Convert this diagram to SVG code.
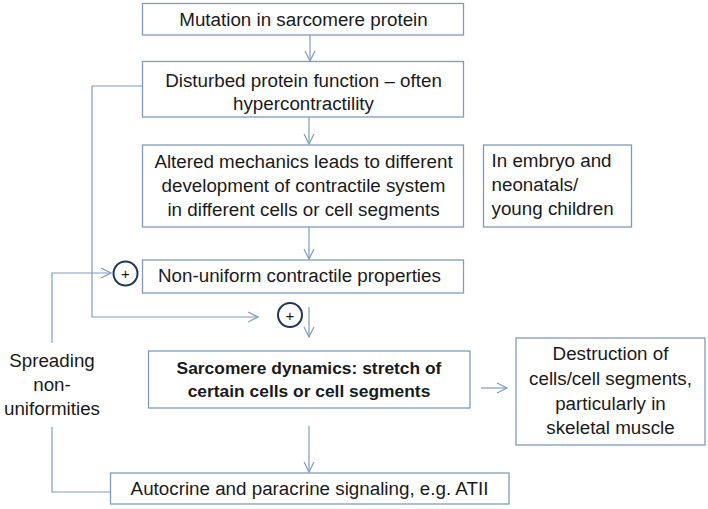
<svg xmlns="http://www.w3.org/2000/svg" width="708" height="509" viewBox="0 0 708 509">
<style>
.box{fill:#fff;stroke:#7f9cc0;stroke-width:1.3}
.ln{fill:none;stroke:#7f9dc4;stroke-width:1.2}
.t{font-family:"Liberation Sans",Arial,sans-serif;font-size:18.8px;fill:#1a1a1a}
.c{text-anchor:middle}
.b{font-weight:bold;font-size:17.4px}
.circ{fill:#fff;stroke:#1f3560;stroke-width:2}
.pl{font-family:"Liberation Sans",Arial,sans-serif;font-size:15px;fill:#1a1a1a;text-anchor:middle}
</style>
<defs>
<marker id="ah" viewBox="0 0 12 12" refX="11" refY="6" markerWidth="12" markerHeight="12" markerUnits="userSpaceOnUse" orient="auto">
<polyline points="1,1 11,6 1,11" fill="none" stroke="#7f9dc4" stroke-width="1.2"/>
</marker>
</defs>
<rect width="708" height="509" fill="#fff"/>
<g id="connectors">
<line class="ln" x1="310" y1="35" x2="310" y2="61" marker-end="url(#ah)"/>
<line class="ln" x1="309" y1="117" x2="309" y2="144" marker-end="url(#ah)"/>
<line class="ln" x1="309" y1="227" x2="309" y2="259" marker-end="url(#ah)"/>
<polyline class="ln" points="142,86 92,86 92,317 258,317" marker-end="url(#ah)"/>
<line class="ln" x1="309" y1="307" x2="309" y2="337" marker-end="url(#ah)"/>
<line class="ln" x1="481" y1="388" x2="507" y2="388" marker-end="url(#ah)"/>
<line class="ln" x1="309" y1="426" x2="309" y2="472" marker-end="url(#ah)"/>
<polyline class="ln" points="110,492 52,492 52,427"/>
<polyline class="ln" points="52,343 52,273 111,273" marker-end="url(#ah)"/>
</g>
<g id="n1"><rect class="box" x="142.5" y="3.5" width="321" height="31.5"/><text class="t c" x="303.5" y="25.5">Mutation in sarcomere protein</text></g>
<g id="n2"><rect class="box" x="142.5" y="61.5" width="321" height="55.5"/><text class="t c" x="303.5" y="87">Disturbed protein function – often</text><text class="t c" x="303.5" y="110">hypercontractility</text></g>
<g id="n3"><rect class="box" x="142.5" y="145" width="321" height="82"/><text class="t c" x="303.5" y="167.5">Altered mechanics leads to different</text><text class="t c" x="303.5" y="191.5">development of contractile system</text><text class="t c" x="303.5" y="216">in different cells or cell segments</text></g>
<g id="n4"><rect class="box" x="483.5" y="145" width="148" height="82"/><text class="t" x="491.5" y="167">In embryo and</text><text class="t" x="491.5" y="191">neonatals/</text><text class="t" x="491.5" y="215">young children</text></g>
<g id="n5"><rect class="box" x="142.5" y="260" width="321" height="33"/><text class="t" x="158" y="282">Non-uniform contractile properties</text></g>
<g id="p1"><circle class="circ" cx="125.5" cy="273.5" r="12"/><text class="pl" x="125.5" y="279">+</text></g>
<g id="p2"><circle class="circ" cx="290" cy="315" r="12"/><text class="pl" x="290" y="320.5">+</text></g>
<g id="n6"><rect class="box" x="148.5" y="351" width="321.5" height="57"/><text class="t c b" x="309" y="374">Sarcomere dynamics: stretch of</text><text class="t c b" x="309" y="397">certain cells or cell segments</text></g>
<g id="n7"><rect class="box" x="516" y="338" width="189" height="107"/><text class="t c" x="610.5" y="360">Destruction of</text><text class="t c" x="610.5" y="385">cells/cell segments,</text><text class="t c" x="610.5" y="410">particularly in</text><text class="t c" x="610.5" y="434">skeletal muscle</text></g>
<g id="n8"><rect class="box" x="110.5" y="473" width="398.5" height="31"/><text class="t c" x="309.5" y="495">Autocrine and paracrine signaling, e.g. ATII</text></g>
<g id="lbl"><text class="t c" x="52" y="367">Spreading</text><text class="t c" x="52" y="391">non-</text><text class="t c" x="52" y="415">uniformities</text></g>
</svg>
